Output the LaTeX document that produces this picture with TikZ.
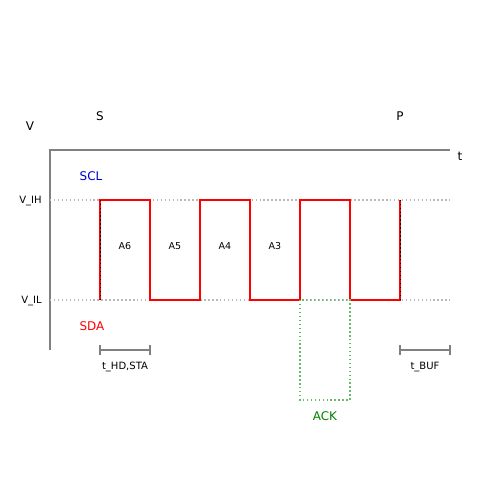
\documentclass[tikz,border=0pt]{standalone}
\usepackage{fontspec}
\setmainfont{DejaVu Sans}
\usetikzlibrary{positioning}
\definecolor{axisgray}{RGB}{128, 128, 128}
\definecolor{levelgray}{RGB}{185, 185, 185}
\definecolor{sclblue}{RGB}{0, 0, 204}
\definecolor{ackgreen}{RGB}{0, 128, 0}
\definecolor{ackdots}{RGB}{102, 187, 102}

\begin{document}
\begin{tikzpicture}[
  x=0.02cm, y=-0.02cm,
  axis/.style={
    draw=axisgray,
    line width=0.85pt,
  },
  level/.style={
    draw=levelgray,
    line width=0.85pt,
    dash pattern=on 0.85pt off 1.4pt,
  },
  signal/.style={
    draw=red,
    line width=1.15pt,
    line join=miter,
  },
  edgedots/.style={
    draw=black,
    line width=0.55pt,
    dash pattern=on 0.85pt off 1.4pt,
  },
  ackbox/.style={
    draw=ackdots,
    line width=0.85pt,
    dash pattern=on 0.85pt off 1.4pt,
  },
  bigtext/.style={font=\fontsize{6.8}{8}\selectfont, inner sep=0pt},
  smalltext/.style={font=\fontsize{5.7}{7}\selectfont, inner sep=0pt},
  bittext/.style={font=\fontsize{5.4}{6}\selectfont, inner sep=0pt},
]
  \useasboundingbox (0, 0) rectangle (500, 500);

  % === Axes ===
  \coordinate (top) at (50, 150);
  \coordinate (bottom) at (50, 350);
  \coordinate (right) at (450, 150);
  \draw[axis] (bottom) -- (top) -- (right);
  \node[bigtext] (v-lab) at (30, 126) {V};
  \node[bigtext] (t-lab) at (460, 156) {t};

  % Start / stop markers
  \node[bigtext] (s-lab) at (100, 116) {S};
  \node[bigtext] (p-lab) at (400, 116) {P};

  % === Threshold levels ===
  \coordinate (ih-l) at (50, 200);
  \coordinate (ih-r) at (450, 200);
  \coordinate (il-l) at (50, 300);
  \coordinate (il-r) at (450, 300);
  \draw[level] (ih-l) -- (ih-r);
  \draw[level] (il-l) -- (il-r);
  \node[smalltext, anchor=east] (vih) at (42, 201) {V\_IH};
  \node[smalltext, anchor=east] (vil) at (42, 301) {V\_IL};

  % Line names
  \node[bigtext, text=sclblue] (scl) at (91, 176) {SCL};
  \node[bigtext, text=red] (sda) at (92, 326) {SDA};

  % === Waveform ===
  \draw[signal] (100, 300) -- (100, 200) -- (150, 200) -- (150, 300)
    -- (200, 300) -- (200, 200) -- (250, 200) -- (250, 300)
    -- (300, 300) -- (300, 200) -- (350, 200) -- (350, 300)
    -- (400, 300) -- (400, 200);
  \draw[edgedots] (100, 300) -- (100, 200);
  \draw[edgedots] (400, 300) -- (400, 200);

  % Address bits
  \foreach \bit/\x in {6/125, 5/175, 4/225, 3/275} {
    \node[bittext] (a\bit) at (\x, 246) {A\bit};
  }

  % === Acknowledge ===
  \draw[ackbox] (300, 300) rectangle (350, 400);
  \node[bigtext, text=ackgreen] (ack) at (325, 416) {ACK};

  % === Timing brackets ===
  \foreach \name/\x in {hd/100, buf/400} {
    \coordinate (\name-a) at (\x, 350);
    \coordinate (\name-b) at (\x + 50, 350);
    \draw[axis] (\name-a) -- (\name-b);
    \draw[axis] ([yshift=0.1cm]\name-a) -- ([yshift=-0.1cm]\name-a);
    \draw[axis] ([yshift=0.1cm]\name-b) -- ([yshift=-0.1cm]\name-b);
  }
  \node[smalltext] (hd-lab) at (125, 367) {t\_HD,STA};
  \node[smalltext] (buf-lab) at (425, 367) {t\_BUF};

\end{tikzpicture}
\end{document}
